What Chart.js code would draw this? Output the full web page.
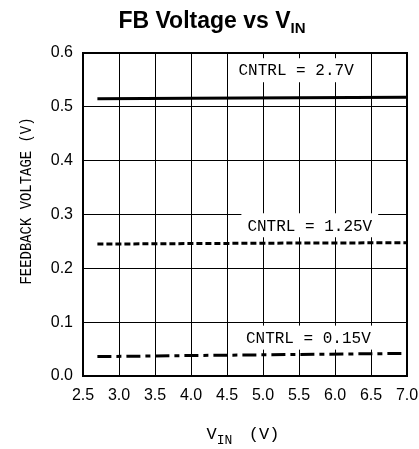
<!DOCTYPE html>
<html>
<head>
<meta charset="utf-8">
<script src="https://cdn.jsdelivr.net/npm/chart.js@4.4.0/dist/chart.umd.min.js"></script>
<style>
  html, body { margin: 0; padding: 0; background: #fff; }
  #wrap { width: 419px; height: 449px; }
</style>
</head>
<body>
<div id="wrap"><canvas id="graph" width="419" height="449"></canvas></div>
<script>
// input voltage (V)
const vin = [2.7, 4.0, 5.5, 7.0];
// feedback voltage (V) per CNTRL level
const fb270 = [0.515, 0.516, 0.517, 0.518];
const fb125 = [0.245, 0.246, 0.247, 0.2475];
const fb015 = [0.036, 0.038, 0.040, 0.042];

const xTicks = [2.5, 3.0, 3.5, 4.0, 4.5, 5.0, 5.5, 6.0, 6.5, 7.0];
const yTicks = [0.0, 0.1, 0.2, 0.3, 0.4, 0.5, 0.6];

const curveLabels = ['CNTRL = 2.7V', 'CNTRL = 1.25V', 'CNTRL = 0.15V'];
const labelX = [5.46, 5.65, 5.63];
const labelY = [0.568, 0.28, 0.0713];

const monoFont = '"Liberation Mono", "DejaVu Sans Mono", monospace';
const sansFont = '"Liberation Sans", Arial, sans-serif';

function points(xs, ys) {
    return xs.map((x, i) => ({ x: x, y: ys[i] }));
}

const canvas = document.getElementById('graph');

// white-boxed curve labels, drawn over the grid
const curveLabelPlugin = {
    id: 'curveLabels',
    beforeDatasetsDraw(chart) {
        const ctx = chart.ctx;
        const xs = chart.scales.x, ys = chart.scales.y;
        ctx.save();
        ctx.font = '16px ' + monoFont;
        ctx.textAlign = 'center';
        ctx.textBaseline = 'middle';
        curveLabels.forEach((t, i) => {
            const cx = xs.getPixelForValue(labelX[i]);
            const cy = ys.getPixelForValue(labelY[i]);
            const w = ctx.measureText(t).width + 12;
            ctx.fillStyle = '#fff';
            ctx.fillRect(cx - w / 2, cy - 12, w, 24);
            ctx.fillStyle = '#000';
            ctx.fillText(t, cx, cy + 1);
        });
        ctx.restore();
    }
};

// titles with subscripts and the plot frame
const decorPlugin = {
    id: 'decor',
    afterDraw(chart) {
        const ctx = chart.ctx;
        const a = chart.chartArea;
        ctx.save();
        ctx.strokeStyle = '#000';
        ctx.lineWidth = 2;
        ctx.strokeRect(a.left, a.top, a.right - a.left, a.bottom - a.top);

        ctx.fillStyle = '#000';
        ctx.textBaseline = 'alphabetic';
        ctx.textAlign = 'left';

        // chart title
        ctx.font = 'bold 23px ' + sansFont;
        const main = 'FB Voltage vs V';
        const mw = ctx.measureText(main).width;
        ctx.font = 'bold 15px ' + sansFont;
        const sw = ctx.measureText('IN').width;
        let x0 = 212 - (mw + sw) / 2;
        ctx.font = 'bold 23px ' + sansFont;
        ctx.fillText(main, x0, 28);
        ctx.font = 'bold 15px ' + sansFont;
        ctx.fillText('IN', x0 + mw, 33);

        // x axis title
        const cx = 245;
        ctx.font = '17px ' + monoFont;
        const v = 'V';
        const vw = ctx.measureText(v).width;
        const tail = '  (V)';
        const tw = ctx.measureText(tail).width;
        ctx.font = '13px ' + monoFont;
        const iw = ctx.measureText('IN').width;
        let x1 = cx - (vw + iw + tw) / 2;
        ctx.font = '17px ' + monoFont;
        ctx.fillText(v, x1, 439);
        ctx.fillText(tail, x1 + vw + iw - 4, 439);
        ctx.font = '13px ' + monoFont;
        ctx.fillText('IN', x1 + vw, 444);

        // y axis title (narrow lettering)
        ctx.translate(27, 201);
        ctx.rotate(-Math.PI / 2);
        ctx.scale(0.87, 1);
        ctx.textAlign = 'center';
        ctx.textBaseline = 'middle';
        ctx.font = '16px ' + monoFont;
        ctx.fillText('FEEDBACK VOLTAGE (V)', 0, 0);
        ctx.restore();
    }
};

const data = {
    datasets: [{
        label: curveLabels[0],
        data: points(vin, fb270),
        borderColor: '#000',
        borderWidth: 3,
        pointRadius: 0,
        fill: false
    }, {
        label: curveLabels[1],
        data: points(vin, fb125),
        borderColor: '#000',
        borderWidth: 3,
        borderDash: [6, 3],
        pointRadius: 0,
        fill: false
    }, {
        label: curveLabels[2],
        data: points(vin, fb015),
        borderColor: '#000',
        borderWidth: 3,
        borderDash: [14, 5, 5, 5],
        pointRadius: 0,
        fill: false
    }]
};

const options = {
    responsive: false,
    animation: false,
    layout: {
        padding: { top: 53, right: 12, bottom: 0, left: 0 }
    },
    plugins: {
        legend: { display: false },
        tooltip: { enabled: false }
    },
    scales: {
        x: {
            type: 'linear',
            position: 'bottom',
            min: 2.5,
            max: 7.0,
            afterBuildTicks: function (scale) {
                scale.ticks = xTicks.map(v => ({ value: v }));
            },
            afterFit: function (scale) {
                scale.height = 73;
                scale.paddingLeft = 0;
                scale.paddingRight = 0;
            },
            ticks: {
                color: '#000',
                padding: 10,
                maxRotation: 0,
                font: { family: sansFont, size: 16 },
                callback: v => v.toFixed(1)
            },
            grid: {
                color: '#000',
                lineWidth: 1,
                drawTicks: false
            },
            border: { display: false }
        },
        y: {
            type: 'linear',
            position: 'left',
            min: 0,
            max: 0.6,
            afterBuildTicks: function (scale) {
                scale.ticks = yTicks.map(v => ({ value: v }));
            },
            afterFit: function (scale) {
                scale.width = 83;
            },
            ticks: {
                color: '#000',
                padding: 10,
                font: { family: sansFont, size: 16 },
                callback: v => v.toFixed(1)
            },
            grid: {
                color: '#000',
                lineWidth: 1,
                drawTicks: false
            },
            border: { display: false }
        }
    }
};

const chart = new Chart(canvas, {
    type: 'line',
    data: data,
    options: options,
    plugins: [curveLabelPlugin, decorPlugin]
});
</script>
</body>
</html>
